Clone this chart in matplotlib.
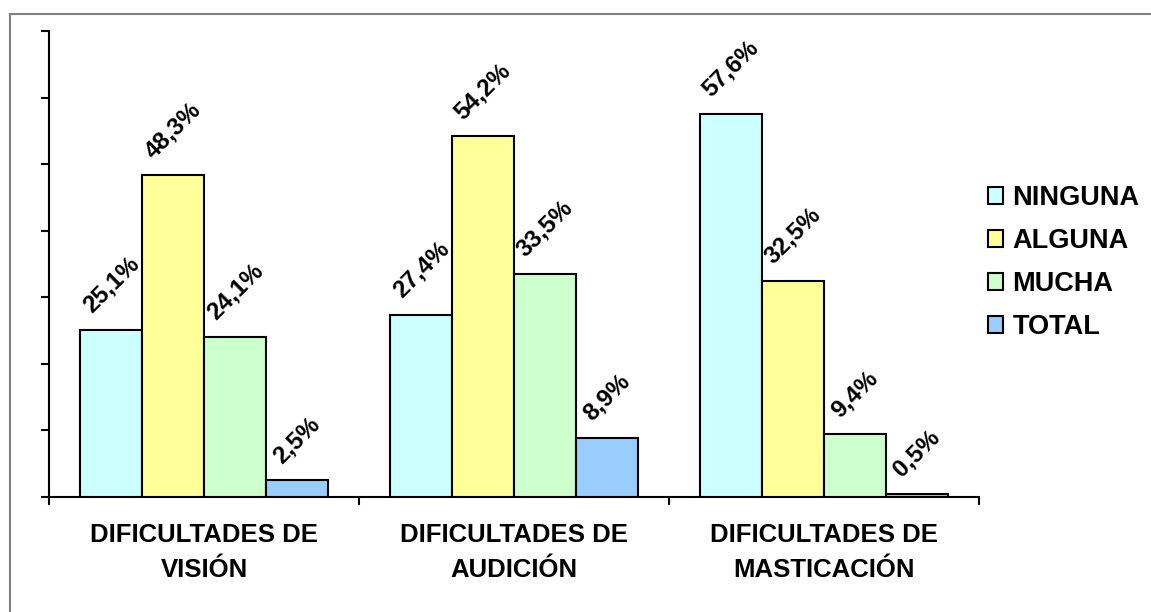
import numpy as np
import matplotlib
matplotlib.use('Agg')
import matplotlib.pyplot as plt
import matplotlib.patches as mpatches

# DATA
categories = ['DIFICULTADES DE\nVISIÓN', 'DIFICULTADES DE\nAUDICIÓN', 'DIFICULTADES DE\nMASTICACIÓN']
series_names = ['NINGUNA', 'ALGUNA', 'MUCHA', 'TOTAL']
ninguna = [25.1, 27.4, 57.6]
alguna = [48.3, 54.2, 32.5]
mucha = [24.1, 33.5, 9.4]
total = [2.5, 8.9, 0.5]
colors = ['#CCFFFF', '#FFFF99', '#CCFFCC', '#99CCFF']

plt.rcParams['font.family'] = ['Liberation Sans', 'DejaVu Sans']
plt.rcParams['font.weight'] = 'bold'

W, H = 1151, 612
fig = plt.figure(figsize=(W / 100, H / 100), dpi=100)
ax = fig.add_axes([49 / W, (H - 497) / H, (979 - 49) / W, (497 - 31) / H])

# outer chart border (only top and left fall inside the image)
border = mpatches.Rectangle((10 / W, -0.2), 1.5, (H - 14) / H + 0.2, transform=fig.transFigure,
                            fill=False, edgecolor='#808080', linewidth=1.5, clip_on=False)
fig.patches.append(border)

x = np.arange(len(categories))
width = 0.2
series = [ninguna, alguna, mucha, total]
for i, (name, vals) in enumerate(zip(series_names, series)):
    pos = x + (i - 1.5) * width
    ax.bar(pos, vals, width, color=colors[i], edgecolor='black', linewidth=1.5, label=name, zorder=3)
    for px, v in zip(pos, vals):
        ax.annotate(('%.1f%%' % v).replace('.', ','), (px, v), xytext=(0, 9), textcoords='offset points',
                    rotation=45, ha='center', va='bottom', fontsize=17.5, fontweight='bold')

ax.set_xlim(-0.5, 2.5)
ax.set_ylim(0, 70)
ax.set_yticks(np.arange(0, 71, 10))
ax.set_yticklabels([])
ax.tick_params(axis='y', direction='out', length=6, width=1.5)

ax.set_xticks([-0.5, 0.5, 1.5, 2.5])
ax.set_xticklabels([])
ax.tick_params(axis='x', which='major', direction='out', length=6, width=1.5)
ax.set_xticks(x, minor=True)
ax.set_xticklabels(categories, minor=True, fontsize=18.5, fontweight='bold', linespacing=1.55)
ax.tick_params(axis='x', which='minor', length=0, pad=19)

for s in ['top', 'right']:
    ax.spines[s].set_visible(False)
for s in ['left', 'bottom']:
    ax.spines[s].set_linewidth(1.5)

handles = [mpatches.Patch(facecolor=c, edgecolor='black', linewidth=1.5, label=n)
           for c, n in zip(colors, series_names)]
fig.legend(handles=handles, loc='upper left', bbox_to_anchor=(988 / W, (H - 185) / H),
           frameon=False, prop={'weight': 'bold', 'size': 19.5},
           handlelength=0.55, handleheight=0.55, handletextpad=0.35, labelspacing=0.63,
           borderpad=0, borderaxespad=0)

fig.savefig('out.png', dpi=100)
